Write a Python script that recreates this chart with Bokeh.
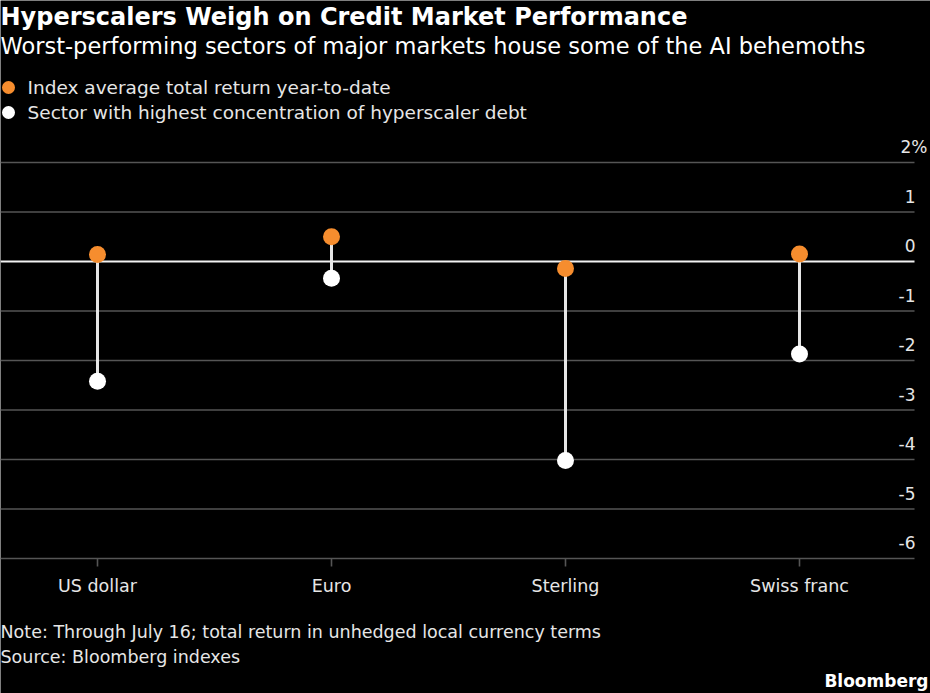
from bokeh.plotting import figure
from bokeh.models import Range1d
from bokeh.core.properties import value
from bokeh.embed import file_html
from bokeh.resources import INLINE

# ---- data -------------------------------------------------------------
categories = ["US dollar", "Euro", "Sterling", "Swiss franc"]
index_return = [0.14, 0.50, -0.14, 0.15]      # index average total return YTD, %
sector_return = [-2.42, -0.34, -4.02, -1.87]  # sector with most hyperscaler debt, %
y_ticks = [2, 1, 0, -1, -2, -3, -4, -5, -6]
y_tick_labels = ["2%", "1", "0", "-1", "-2", "-3", "-4", "-5", "-6"]

title = "Hyperscalers Weigh on Credit Market Performance"
subtitle = "Worst-performing sectors of major markets house some of the AI behemoths"
legend_labels = ["Index average total return year-to-date",
                 "Sector with highest concentration of hyperscaler debt"]
note = "Note: Through July 16; total return in unhedged local currency terms"
source = "Source: Bloomberg indexes"
brand = "Bloomberg"

# ---- page geometry (pixels) ------------------------------------------
W, H = 930, 693
FONT = "DejaVu Sans"
ORANGE = "#f68d2e"
GRID = "#555555"
LIGHT = "#e6e6e6"
cat_px0, cat_step = 97, 234          # first category centre, spacing
top_tick_px, bottom_tick_px = 162, 558
grid_right_px = 914
px_per_unit = (bottom_tick_px - top_tick_px) / (y_ticks[0] - y_ticks[-1])

x_start = -cat_px0 / cat_step
x_end = (W - cat_px0) / cat_step
y_end = y_ticks[0] + top_tick_px / px_per_unit
y_start = y_ticks[-1] - (H - bottom_tick_px) / px_per_unit


def X(px):
    return x_start + px / cat_step


def Y(py):
    return y_end - py / px_per_unit


p = figure(width=W, height=H, x_range=Range1d(x_start, x_end),
           y_range=Range1d(y_start, y_end), min_border=0,
           x_axis_type=None, y_axis_type=None, toolbar_location=None,
           output_backend="svg", background_fill_color="black",
           border_fill_color="black", outline_line_color=None)
p.grid.visible = False

idx = list(range(len(categories)))

# horizontal gridlines, zero line highlighted
n = len(y_ticks)
p.segment(x0=[X(0)] * n, y0=y_ticks, x1=[X(grid_right_px)] * n, y1=y_ticks,
          line_color=["#f2f2f2" if t == 0 else GRID for t in y_ticks],
          line_width=[2 if t == 0 else 1.6 for t in y_ticks])

# value-axis labels sit just above their gridlines; the unit sign hangs
# past the right edge so the digits stay aligned
p.text(x=[X(grid_right_px + 1)] * n, y=y_ticks, text=y_tick_labels,
       x_offset=[12 if "%" in t else 0 for t in y_tick_labels],
       text_align="right", text_baseline="middle", y_offset=-16,
       text_font=value(FONT), text_font_size="17px", text_color=LIGHT)

# category axis: ticks and labels under the bottom gridline
p.segment(x0=idx, y0=[y_ticks[-1]] * len(idx), x1=idx,
          y1=[Y(bottom_tick_px + 8)] * len(idx), line_color=GRID, line_width=1.6)
p.text(x=idx, y=[Y(585)] * len(idx), text=categories, text_align="center",
       text_baseline="middle", text_font=value(FONT), text_font_size="17.5px",
       text_color=LIGHT)

# dumbbell stems and dots
p.segment(x0=idx, y0=index_return, x1=idx, y1=sector_return,
          line_color=LIGHT, line_width=3)
p.scatter(idx, sector_return, size=17, fill_color="white", line_color=None)
p.scatter(idx, index_return, size=17, fill_color=ORANGE, line_color=None)

# headline and subtitle
p.text(x=[X(0)], y=[Y(16)], text=[title], text_baseline="middle",
       text_font=value(FONT), text_font_style="bold", text_font_size="24px",
       text_color="white")
p.text(x=[X(0)], y=[Y(45)], text=[subtitle], text_baseline="middle",
       text_font=value(FONT), text_font_size="22.5px", text_color="white")

# legend
p.scatter([X(8), X(8)], [Y(87), Y(112)], size=13,
          fill_color=[ORANGE, "white"], line_color=None)
p.text(x=[X(27)] * 2, y=[Y(87), Y(112)], text=legend_labels,
       text_baseline="middle", text_font=value(FONT), text_font_size="18.5px",
       text_color=LIGHT)

# footer
p.text(x=[X(0)] * 2, y=[Y(631), Y(656)], text=[note, source],
       text_baseline="middle", text_font=value(FONT), text_font_size="17.5px",
       text_color=LIGHT)
p.text(x=[X(928)], y=[Y(680)], text=[brand], text_align="right",
       text_baseline="middle", text_font=value(FONT), text_font_style="bold",
       text_font_size="17px", text_color="white")

open("out.html", "w").write(file_html(p, INLINE))
